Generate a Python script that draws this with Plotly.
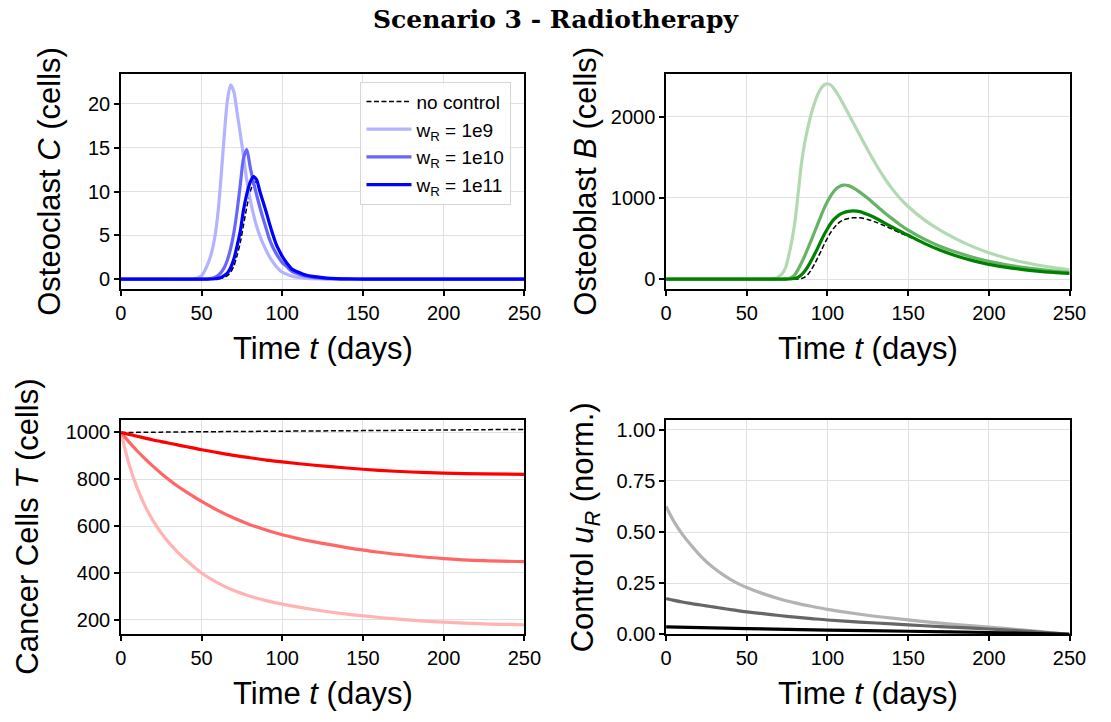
import plotly.graph_objects as go
from plotly.subplots import make_subplots

# ---------------- data ----------------
# Osteoclasts C
t_C = [0, 30, 45, 50, 52, 54, 56, 58, 60, 62, 64, 66, 68, 70, 72, 74, 76, 78, 80, 82,
       84, 86, 88, 90, 92, 94, 96, 98, 100, 103, 106, 110, 115, 120, 125, 130, 140, 150, 175, 200, 250]
C_none = [0, 0, 0, 0, 0, 0, 0, 0.02, 0.05, 0.1, 0.2, 0.4, 0.8, 1.5, 2.7, 4.2, 6.2, 8.2, 9.9, 10.9,
          11.1, 10.2, 8.9, 7.7, 6.4, 5.2, 4.1, 3.3, 2.6, 1.8, 1.15, 0.8, 0.45, 0.3, 0.18, 0.1, 0.04, 0.015, 0, 0, 0]
C_w9 = [0, 0, 0.02, 0.4, 1.0, 1.8, 2.9, 4.6, 7.3, 11.5, 16.3, 20.4, 22.2, 21.4, 19.0, 16.6, 14.0, 11.3, 9.2, 7.5,
        6.1, 5.0, 4.1, 3.3, 2.6, 2.0, 1.5, 1.1, 0.8, 0.55, 0.35, 0.2, 0.1, 0.05, 0.03, 0.02, 0.01, 0, 0, 0, 0]
C_w10 = [0, 0, 0, 0, 0.02, 0.05, 0.1, 0.2, 0.4, 0.75, 1.3, 2.2, 3.5, 5.3, 7.8, 10.8, 13.8, 14.8, 12.9, 11.2,
         9.7, 8.3, 7.0, 5.8, 4.6, 3.7, 3.0, 2.4, 1.9, 1.4, 0.9, 0.6, 0.33, 0.18, 0.1, 0.06, 0.02, 0.01, 0, 0, 0]
C_w11 = [0, 0, 0, 0, 0, 0, 0.02, 0.05, 0.1, 0.2, 0.4, 0.7, 1.3, 2.3, 3.8, 5.5, 7.9, 9.7, 11.0, 11.7,
         11.4, 10.1, 8.9, 7.7, 6.4, 5.2, 4.1, 3.3, 2.6, 1.8, 1.15, 0.8, 0.45, 0.3, 0.18, 0.1, 0.04, 0.015, 0, 0, 0]

# Osteoblasts B
t_B = [0, 50, 65, 68, 70, 72, 74, 76, 78, 80, 82, 84, 86, 88, 90, 92, 94, 96, 98, 100, 102, 104,
       106, 108, 110, 113, 116, 120, 125, 130, 135, 140, 145, 150, 160, 170, 180, 190, 200, 210, 220, 230, 240, 250]
B_none = [0, 0, 0, 0, 0, 0, 0, 0, 0, 0, 2, 8, 25, 60, 115, 185, 265, 345, 430, 505, 575, 630,
          675, 708, 730, 748, 756, 755, 735, 702, 660, 615, 570, 528, 437, 353, 283, 226, 180, 146, 118, 96, 80, 68]
B_w9 = [0, 0, 2, 10, 35, 70, 140, 290, 480, 730, 1090, 1440, 1690, 1880, 2040, 2170, 2275, 2350, 2393, 2407, 2392, 2350,
        2290, 2222, 2150, 2038, 1925, 1775, 1590, 1415, 1255, 1115, 995, 895, 730, 600, 492, 400, 325, 264, 214, 174, 141, 114]
B_w10 = [0, 0, 0, 0, 0, 0, 2, 8, 25, 60, 125, 205, 290, 385, 480, 580, 680, 780, 875, 955, 1025, 1082,
         1122, 1148, 1159, 1152, 1124, 1072, 995, 910, 825, 745, 670, 603, 492, 402, 330, 270, 220, 180, 148, 122, 100, 83]
B_w11 = [0, 0, 0, 0, 0, 0, 0, 1, 4, 10, 25, 55, 100, 160, 230, 305, 385, 470, 550, 620, 685, 735,
         772, 800, 818, 834, 840, 832, 795, 750, 695, 642, 590, 540, 440, 355, 285, 228, 182, 148, 120, 98, 82, 70]

# Cancer cells T
t_T = [0, 5, 10, 15, 20, 25, 30, 35, 40, 50, 60, 70, 80, 90, 100, 120, 140, 160, 180, 200, 225, 250]
T_none = [1000, 1000, 1000.5, 1001, 1001, 1001.5, 1002, 1002, 1002.5, 1003, 1003.5, 1004, 1004.5, 1005,
          1005.5, 1006.5, 1007.5, 1008.5, 1009.5, 1010.5, 1012, 1013]
T_w9 = [1000, 865, 764, 685, 622, 570, 527, 490, 457, 399, 357, 324, 300, 281, 266, 242, 223, 209, 198, 189, 182, 178]
T_w10 = [1000, 960, 922, 887, 855, 825, 797, 771, 748, 705, 667, 634, 606, 583, 563, 532, 508, 488, 473, 461, 452, 448]
T_w11 = [1000, 992, 984, 976, 968, 961, 954, 947, 940, 926, 914, 902, 892, 882, 874, 860, 848, 838, 831, 826, 823, 821]

# Control u_R
t_U = [0, 5, 10, 15, 20, 25, 30, 35, 40, 45, 50, 60, 70, 80, 90, 100, 120, 140, 160, 180, 200, 220, 235, 250]
U_w9 = [0.625, 0.55, 0.49, 0.44, 0.395, 0.355, 0.322, 0.293, 0.268, 0.247, 0.229, 0.199, 0.174, 0.154, 0.137,
        0.122, 0.098, 0.079, 0.062, 0.048, 0.035, 0.022, 0.011, 0.0]
U_w10 = [0.175, 0.166, 0.158, 0.151, 0.145, 0.139, 0.133, 0.127, 0.121, 0.115, 0.110, 0.101, 0.092, 0.084, 0.077,
         0.070, 0.060, 0.051, 0.042, 0.034, 0.026, 0.017, 0.009, 0.0]
t_U11 = [0, 50, 100, 150, 200, 250]
U_w11 = [0.036, 0.028, 0.021, 0.015, 0.009, 0.0]

labels = ["w<sub>R</sub> = 1e9", "w<sub>R</sub> = 1e10", "w<sub>R</sub> = 1e11"]

blues = ["rgb(179,179,255)", "rgb(102,102,255)", "rgb(0,0,255)"]
greens = ["rgb(179,217,179)", "rgb(102,179,102)", "rgb(0,128,0)"]
reds = ["rgb(255,179,179)", "rgb(255,102,102)", "rgb(255,0,0)"]
grays = ["rgb(179,179,179)", "rgb(102,102,102)", "rgb(0,0,0)"]

FONT = "Liberation Sans"
LW = 3.2

fig = make_subplots(rows=2, cols=2)


def add_panel(row, col, t, none, series, colors, legend=False, t_list=None):
    if none is not None:
        fig.add_trace(go.Scatter(x=t, y=none, mode="lines", name="no control",
                                 line=dict(color="black", width=1.5, dash="5px,2.5px", shape="spline", smoothing=0.8),
                                 showlegend=legend), row=row, col=col)
    for i, (s, c) in enumerate(zip(series, colors)):
        tt = t if t_list is None else t_list[i]
        fig.add_trace(go.Scatter(x=tt, y=s, mode="lines", name=labels[i],
                                 line=dict(color=c, width=LW, shape="spline", smoothing=0.8),
                                 showlegend=legend), row=row, col=col)


add_panel(1, 1, t_C, C_none, [C_w9, C_w10, C_w11], blues, legend=True)
add_panel(1, 2, t_B, B_none, [B_w9, B_w10, B_w11], greens)
add_panel(2, 1, t_T, T_none, [T_w9, T_w10, T_w11], reds)
add_panel(2, 2, t_U, None, [U_w9, U_w10, U_w11], grays, t_list=[t_U, t_U, t_U11])

axis_common = dict(showline=True, linecolor="black", linewidth=1.5, mirror=True,
                   ticks="outside", ticklen=5, tickwidth=1.5, tickcolor="black",
                   showgrid=True, gridcolor="#e0e0e0", gridwidth=1, zeroline=False,
                   tickfont=dict(family=FONT, size=20, color="black"))

xl = [0.1056, 0.4764]
xr = [0.6067, 0.9775]
yt = [0.5946, 0.8975]
yb = [0.1080, 0.4104]

for name, dom in [("xaxis", xl), ("xaxis2", xr), ("xaxis3", xl), ("xaxis4", xr)]:
    fig.layout[name].update(domain=dom, range=[0, 250], tickvals=[0, 50, 100, 150, 200, 250], **axis_common)

fig.layout.yaxis.update(domain=yt, range=[-1.1, 23.45], tickvals=[0, 5, 10, 15, 20], **axis_common)
fig.layout.yaxis2.update(domain=yt, range=[-120, 2530], tickvals=[0, 1000, 2000], **axis_common)
fig.layout.yaxis3.update(domain=yb, range=[137, 1055], tickvals=[200, 400, 600, 800, 1000], **axis_common)
fig.layout.yaxis4.update(domain=yb, range=[0, 1.05], tickvals=[0, 0.25, 0.5, 0.75, 1.0],
                         ticktext=["0.00", "0.25", "0.50", "0.75", "1.00"], **axis_common)

TF = dict(family=FONT, size=31, color="black")
ann = []
for xc in [0.2910, 0.7921]:
    for yc in [0.5110, 0.0240]:
        ann.append(dict(text="Time <i>t</i> (days)", x=xc, y=yc, xref="paper", yref="paper",
                        showarrow=False, xanchor="center", yanchor="middle", font=TF))
ylabels = [
    ("Osteoclast <i>C</i> (cells)", 0.0400, 0.7461),
    ("Osteoblast <i>B</i> (cells)", 0.5325, 0.7461),
    ("Cancer Cells <i>T</i> (cells)", 0.0200, 0.2592),
    ("Control <i>u<sub>R</sub></i> (norm.)", 0.5325, 0.2592),
]
for txt, xc, yc in ylabels:
    ann.append(dict(text=txt, x=xc, y=yc, xref="paper", yref="paper", textangle=-90,
                    showarrow=False, xanchor="center", yanchor="middle", font=TF))

fig.update_layout(
    width=1111, height=722,
    margin=dict(l=0, r=0, t=0, b=0),
    paper_bgcolor="white", plot_bgcolor="white",
    title=dict(text="<b>Scenario 3 - Radiotherapy</b>", x=0.5, xanchor="center",
               y=0.9727, yanchor="middle", yref="container",
               font=dict(family="DejaVu Serif", size=25, color="black")),
    annotations=ann,
    legend=dict(x=0.3258, y=0.8865, xanchor="left", yanchor="top", itemwidth=45,
                bgcolor="rgba(255,255,255,0.85)", bordercolor="#d5d5d5", borderwidth=1,
                font=dict(family=FONT, size=19, color="black")),
)

fig.write_html("out.html")
